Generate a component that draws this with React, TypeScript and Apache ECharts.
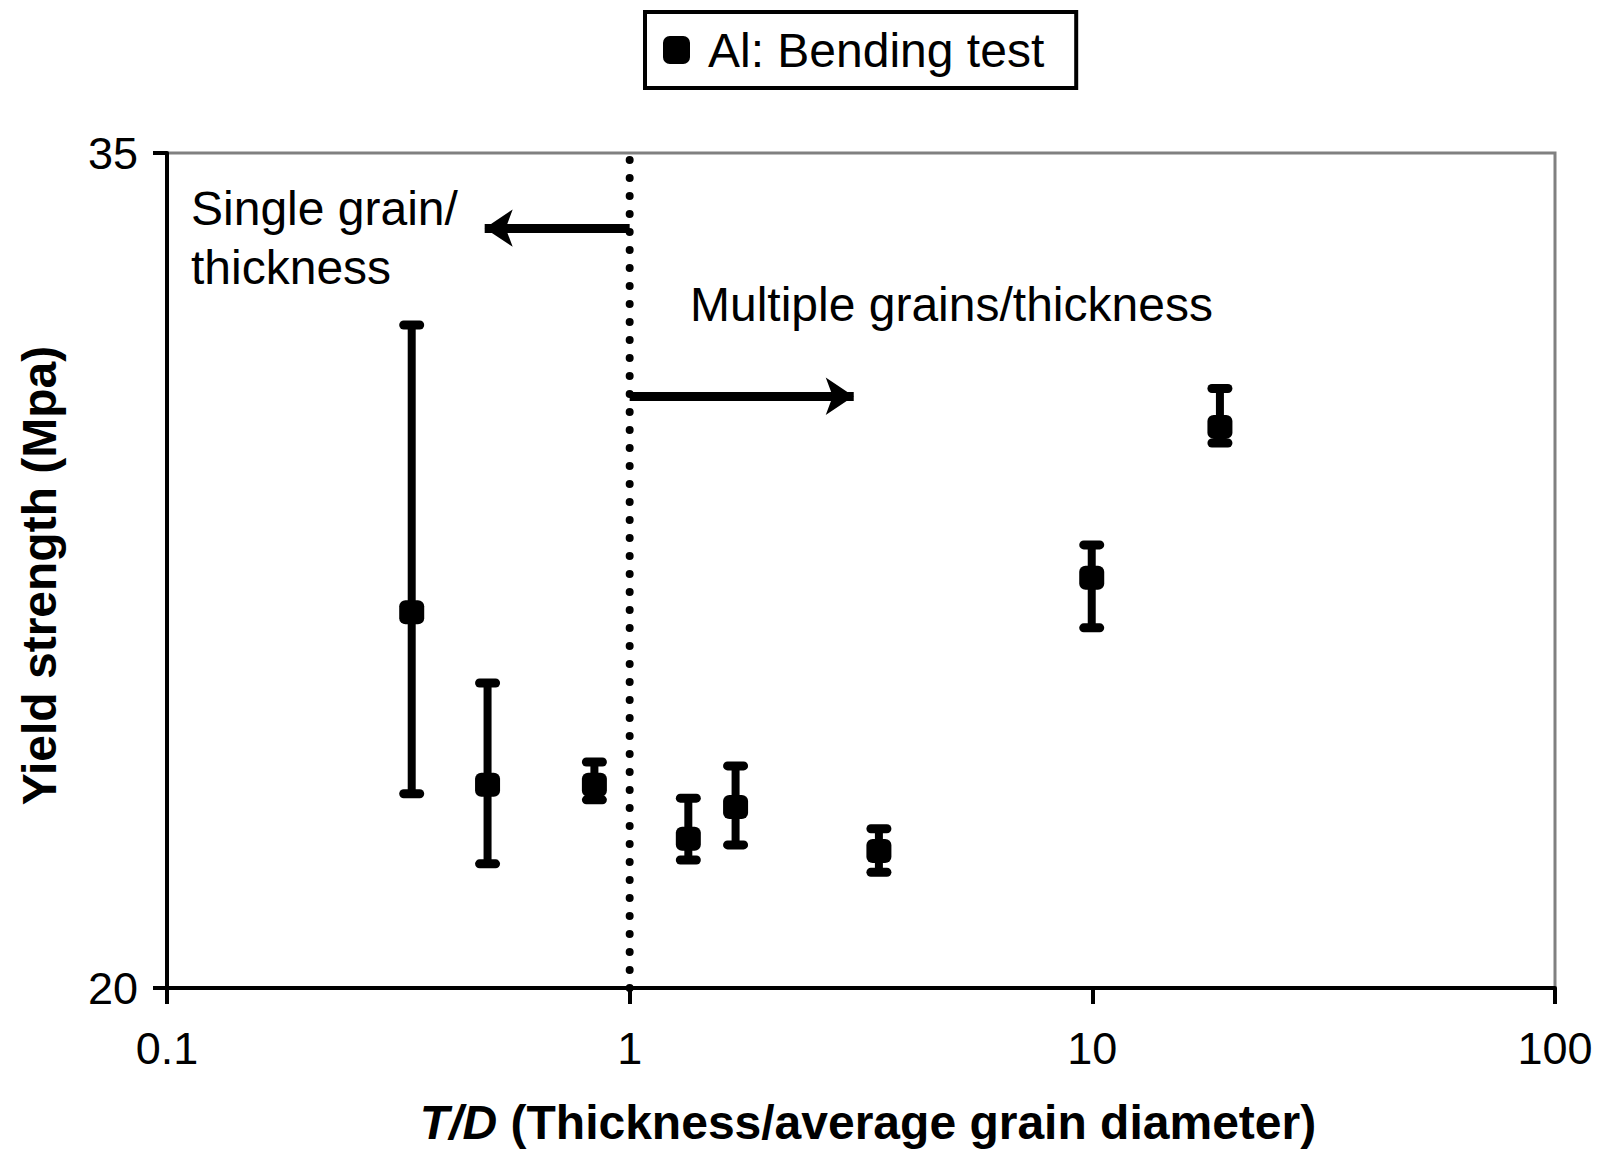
import React, { useEffect, useRef } from "react";
import * as echarts from "echarts";

// ---- Data ----
const seriesName = "Al: Bending test";
const tdValues = [0.338, 0.493, 0.839, 1.339, 1.694, 3.457, 9.97, 18.87];
const yieldMean = [26.75, 23.65, 23.65, 22.68, 23.25, 22.46, 27.37, 30.08];
const yieldHigh = [31.91, 25.48, 24.06, 23.41, 23.99, 22.86, 27.96, 30.77];
const yieldLow = [23.49, 22.23, 23.38, 22.3, 22.57, 22.08, 26.47, 29.79];

const yTickValues = [20, 35];
const boundaryTD = 1;
const leftArrow = { y: 33.65, from: 1, to: 0.486 };
const rightArrow = { y: 30.63, from: 1, to: 3.05 };

const FONT = "'Liberation Sans', Arial, sans-serif";

export default function App() {
  const ref = useRef<HTMLDivElement>(null);

  useEffect(() => {
    document.body.style.margin = "0";
    if (!ref.current) return;
    const chart = echarts.init(ref.current, null, { renderer: "svg" });

    const scatterData = tdValues.map((x, i) => [x, yieldMean[i]]);
    const errData = tdValues.map((x, i) => [x, yieldLow[i], yieldHigh[i]]);

    const option: any = {
      animation: false,
      backgroundColor: "#ffffff",
      textStyle: { fontFamily: FONT, color: "#000" },
      grid: {
        left: 167,
        right: 49,
        top: 153,
        bottom: 163,
        show: true,
        borderColor: "#808080",
        borderWidth: 3,
        containLabel: false,
        outerBoundsMode: "none",
      },
      legend: {
        data: [seriesName],
        left: 645,
        top: 12,
        orient: "horizontal",
        padding: [14, 32, 14, 18],
        borderColor: "#000",
        borderWidth: 4,
        borderRadius: 0,
        backgroundColor: "#fff",
        itemWidth: 27,
        itemHeight: 28,
        icon: "roundRect",
        selectedMode: false,
        itemStyle: { color: "#000", opacity: 1 },
        textStyle: {
          fontFamily: FONT,
          fontSize: 48,
          color: "#000",
          padding: [0, 0, 0, 13],
        },
      },
      xAxis: {
        type: "log",
        logBase: 10,
        min: 0.1,
        max: 100,
        name: "{i|T/D}{b| (Thickness/average grain diameter)}",
        nameLocation: "middle",
        nameGap: 110,
        nameTextStyle: {
          padding: [0, 0, 0, 14],
          rich: {
            i: { fontFamily: FONT, fontSize: 48, fontWeight: "bold", fontStyle: "italic", color: "#000" },
            b: { fontFamily: FONT, fontSize: 48, fontWeight: "bold", color: "#000" },
          },
        },
        axisLine: { show: true, lineStyle: { color: "#000", width: 4 } },
        axisTick: { show: true, length: 16, lineStyle: { color: "#000", width: 4 } },
        minorTick: { show: false },
        splitLine: { show: false },
        axisLabel: {
          fontFamily: FONT,
          fontSize: 45,
          color: "#000",
          margin: 38,
          showMinLabel: true,
          showMaxLabel: true,
          formatter: (v: number) => (v < 1 ? v.toFixed(1) : String(Math.round(v))),
        },
      },
      yAxis: {
        type: "value",
        min: 20,
        max: 35,
        interval: 5,
        name: "Yield strength (Mpa)",
        nameLocation: "middle",
        nameGap: 104,
        nameRotate: 90,
        nameTextStyle: {
          fontFamily: FONT,
          fontSize: 48,
          fontWeight: "bold",
          color: "#000",
          padding: [0, 10, 0, 0],
        },
        axisLine: { show: true, lineStyle: { color: "#000", width: 4 } },
        axisTick: { show: true, length: 14, customValues: yTickValues, lineStyle: { color: "#000", width: 4 } },
        splitLine: { show: false },
        axisLabel: {
          fontFamily: FONT,
          fontSize: 45,
          color: "#000",
          margin: 29,
          customValues: yTickValues,
        },
      },
      graphic: [
        {
          type: "text",
          x: 191,
          y: 208,
          style: { text: "Single grain/", fontFamily: FONT, fontSize: 48, fill: "#000", verticalAlign: "middle", align: "left" },
        },
        {
          type: "text",
          x: 191,
          y: 267,
          style: { text: "thickness", fontFamily: FONT, fontSize: 48, fill: "#000", verticalAlign: "middle", align: "left" },
        },
        {
          type: "text",
          x: 690,
          y: 304,
          style: { text: "Multiple grains/thickness", fontFamily: FONT, fontSize: 48, fill: "#000", verticalAlign: "middle", align: "left" },
        },
      ],
      series: [
        {
          name: "boundary",
          type: "line",
          data: [
            [boundaryTD, 20],
            [boundaryTD, 35],
          ],
          showSymbol: false,
          symbol: "none",
          silent: true,
          lineStyle: { color: "#000", width: 8, type: [0.1, 17.9], cap: "round" },
          z: 3,
          markLine: {
            silent: true,
            symbol: ["none", "arrow"],
            symbolSize: [28, 28],
            label: { show: false },
            lineStyle: { color: "#000", width: 9, type: "solid" },
            data: [
              [{ coord: [leftArrow.from, leftArrow.y] }, { coord: [leftArrow.to, leftArrow.y] }],
              [{ coord: [rightArrow.from, rightArrow.y] }, { coord: [rightArrow.to, rightArrow.y] }],
            ],
          },
        },
        {
          name: "errorbars",
          type: "custom",
          data: errData,
          encode: { x: 0, y: [1, 2] },
          silent: true,
          z: 4,
          renderItem: (params: any, api: any) => {
            const x = api.value(0);
            const lo = api.value(1);
            const hi = api.value(2);
            const pHi = api.coord([x, hi]);
            const pLo = api.coord([x, lo]);
            const half = 8;
            return {
              type: "group",
              children: [
                {
                  type: "line",
                  shape: { x1: pHi[0], y1: pHi[1], x2: pLo[0], y2: pLo[1] },
                  style: { stroke: "#000", lineWidth: 8 },
                },
                {
                  type: "line",
                  shape: { x1: pHi[0] - half, y1: pHi[1], x2: pHi[0] + half, y2: pHi[1] },
                  style: { stroke: "#000", lineWidth: 9, lineCap: "round" },
                },
                {
                  type: "line",
                  shape: { x1: pLo[0] - half, y1: pLo[1], x2: pLo[0] + half, y2: pLo[1] },
                  style: { stroke: "#000", lineWidth: 9, lineCap: "round" },
                },
              ],
            };
          },
        },
        {
          name: seriesName,
          type: "scatter",
          data: scatterData,
          symbol: "roundRect",
          symbolSize: [25, 24],
          itemStyle: { color: "#000", opacity: 1 },
          z: 5,
        },
      ],
    };

    chart.setOption(option);
    return () => chart.dispose();
  }, []);

  return <div ref={ref} style={{ width: 1604, height: 1151 }} />;
}
